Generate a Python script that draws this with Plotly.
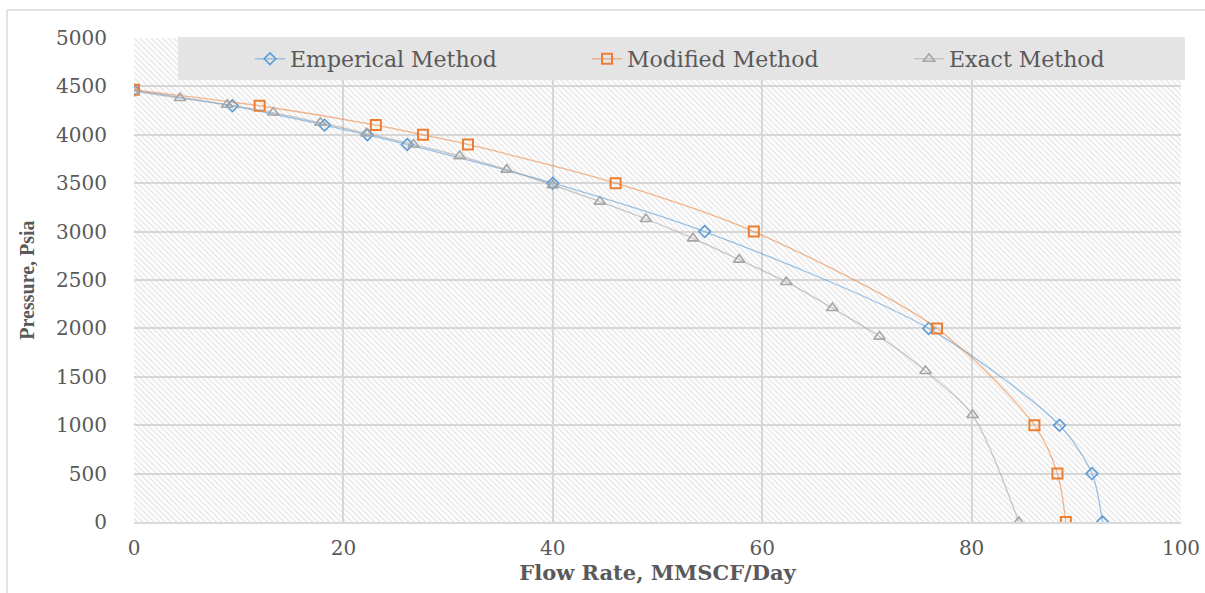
import plotly.graph_objects as go

# ---- data ----
emp_x = [0, 9.4, 18.2, 22.3, 26.1, 40.0, 54.5, 75.9, 88.4, 91.5, 92.5]
emp_y = [4460, 4300, 4100, 4000, 3900, 3500, 3000, 2000, 1000, 500, 0]

mod_x = [0, 12.0, 23.1, 27.6, 31.9, 46.0, 59.2, 76.7, 86.0, 88.2, 89.0]
mod_y = [4465, 4300, 4100, 4000, 3900, 3500, 3000, 2000, 1000, 500, 0]

exa_x = [0, 4.4, 8.9, 13.3, 17.8, 22.2, 26.7, 31.1, 35.6, 40.0, 44.5, 48.9,
         53.4, 57.8, 62.3, 66.7, 71.2, 75.6, 80.1, 84.5]
exa_y = [4450, 4380, 4310, 4230, 4125, 4015, 3900, 3780, 3640, 3480, 3310, 3130,
         2930, 2710, 2480, 2210, 1915, 1560, 1105, 0]

x_range = [0, 100]
y_range = [0, 5000]
x_ticks = [0, 20, 40, 60, 80, 100]
y_ticks = [0, 500, 1000, 1500, 2000, 2500, 3000, 3500, 4000, 4500, 5000]

W, H = 1205, 593
ML, MR, MT, MB = 134, 24, 38, 71
PW, PH = W - ML - MR, H - MT - MB


def px(xp):
    return (xp - ML) / PW


def py(yp):
    return (H - MB - yp) / PH


fig = go.Figure()

# hatched plot background
fig.add_trace(go.Scatter(
    x=[x_range[0], x_range[1], x_range[1], x_range[0], x_range[0]],
    y=[y_range[0], y_range[0], y_range[1], y_range[1], y_range[0]],
    mode="none", fill="toself", fillcolor="rgba(0,0,0,0)",
    fillpattern=dict(shape="\\", fgcolor="#cccccc", bgcolor="rgba(0,0,0,0)",
                     size=4, solidity=0.35),
    showlegend=False, hoverinfo="skip"))

fig.add_trace(go.Scatter(
    x=emp_x, y=emp_y, name="Emperical Method", mode="lines+markers", legend="legend",
    line=dict(color="rgba(91,155,213,0.6)", width=1.3, shape="spline", smoothing=0.8),
    marker=dict(symbol="diamond-open", size=9, color="#5B9BD5", line=dict(width=1.6))))

fig.add_trace(go.Scatter(
    x=mod_x, y=mod_y, name="Modified Method", mode="lines+markers", legend="legend2",
    line=dict(color="rgba(237,125,49,0.55)", width=1.3, shape="spline", smoothing=0.8),
    marker=dict(symbol="square-open", size=10, color="#ED7D31", line=dict(width=2))))

fig.add_trace(go.Scatter(
    x=exa_x, y=exa_y, name="Exact Method", mode="lines+markers", legend="legend3",
    line=dict(color="rgba(165,165,165,0.6)", width=1.3, shape="spline", smoothing=0.8),
    marker=dict(symbol="triangle-up-open", size=10, color="#A5A5A5", line=dict(width=1.6))))

shapes = [
    # legend background box
    dict(type="rect", xref="paper", yref="paper",
         x0=px(178), x1=px(1185), y0=py(80), y1=py(37),
         fillcolor="#e4e4e4", line=dict(width=0), layer="above"),
    # outer chart border (top and left)
    dict(type="line", xref="paper", yref="paper",
         x0=px(7), x1=px(1205), y0=py(10), y1=py(10),
         line=dict(color="#d9d9d9", width=1.5)),
    dict(type="line", xref="paper", yref="paper",
         x0=px(7), x1=px(7), y0=py(10), y1=py(593),
         line=dict(color="#d9d9d9", width=1.5)),
]

tick_font = dict(family="DejaVu Serif", size=20, color="#595959")
legend_font = dict(family="DejaVu Serif", size=22, color="#595959")


def leg(x_px):
    return dict(orientation="h", x=px(x_px), y=py(59), xanchor="left", yanchor="middle",
                bgcolor="rgba(0,0,0,0)", font=legend_font, itemclick=False)


fig.update_layout(
    width=W, height=H,
    margin=dict(l=ML, r=MR, t=MT, b=MB, autoexpand=False),
    paper_bgcolor="white", plot_bgcolor="white",
    shapes=shapes,
    showlegend=True,
    legend=leg(250),
    legend2=leg(587),
    legend3=leg(909),
    xaxis=dict(range=x_range, tickvals=x_ticks, showgrid=True, gridcolor="#d9d9d9", gridwidth=1.5,
               zeroline=False, showline=True, linecolor="#d9d9d9", linewidth=1.5,
               tickfont=tick_font, ticks="", ticklabelstandoff=7, automargin=False,
               title=dict(text="<b>Flow Rate, MMSCF/Day</b>",
                          font=dict(family="DejaVu Serif", size=21, color="#595959"),
                          standoff=6)),
    yaxis=dict(range=y_range, tickvals=y_ticks, showgrid=True, gridcolor="#d9d9d9", gridwidth=1.5,
               zeroline=False, showline=False, automargin=False,
               tickfont=tick_font, ticks="", ticklabelstandoff=26,
               title=dict(text="<b>Pressure, Psia</b>",
                          font=dict(family="Liberation Serif", size=20, color="#595959"),
                          standoff=16)),
)

fig.write_html("out.html")
